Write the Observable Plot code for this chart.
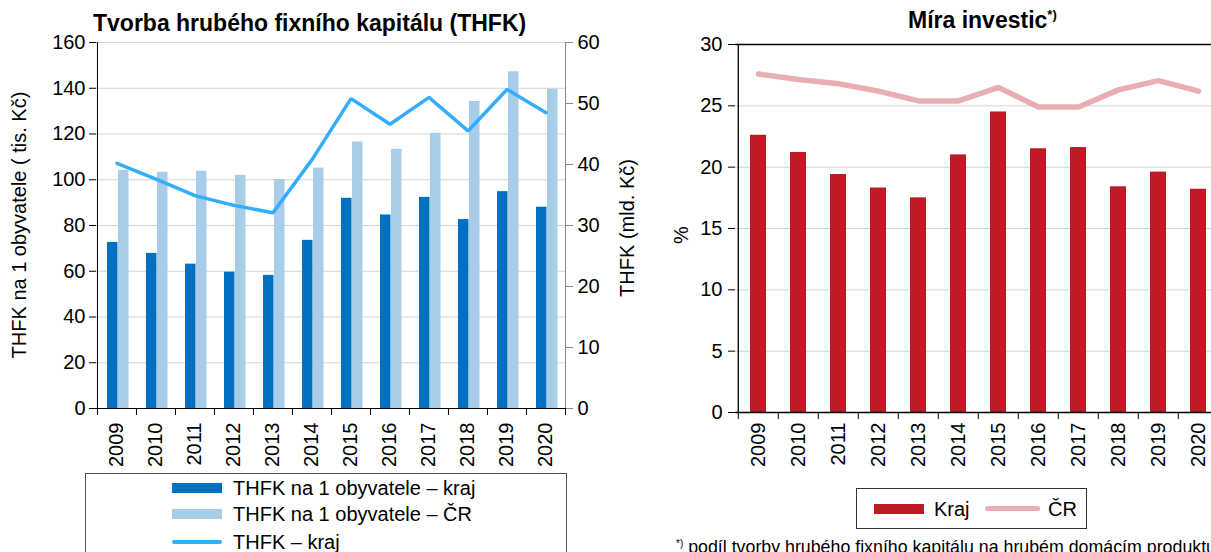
<!DOCTYPE html>
<html>
<head>
<meta charset="utf-8">
<script src="https://cdn.jsdelivr.net/npm/d3@7"></script>
<script src="https://cdn.jsdelivr.net/npm/@observablehq/plot@0.6"></script>
<style>
  html, body { margin: 0; padding: 0; background: #fff; overflow: hidden; }
  body { font-family: "Liberation Sans", Arial, sans-serif; color: #000; }
  #root { position: relative; width: 1211px; height: 552px; overflow: hidden; }
  .abs { position: absolute; white-space: nowrap; }
  .title { font-weight: bold; font-size: 23px; line-height: 23px; }
  .lbl { font-size: 20px; line-height: 20px; }
  .rot { transform: translate(-50%, -50%) rotate(-90deg); }
  svg { overflow: visible; max-width: none !important; }
</style>
</head>
<body>
<div id="root">
  <div id="left" class="abs" style="left:0;top:0;width:640px;height:470px"></div>
  <div id="right" class="abs" style="left:640px;top:0;width:600px;height:470px"></div>

  <div class="abs title" style="left:93px;top:12px">Tvorba hrubého fixního kapitálu (THFK)</div>
  <div class="abs title" style="left:908px;top:9px">Míra investic<sup style="font-size:13px;vertical-align:9px;line-height:0">*)</sup></div>

  <div class="abs lbl rot" style="left:19px;top:225px">THFK na 1 obyvatele ( tis. Kč)</div>
  <div class="abs lbl rot" style="left:627px;top:228px">THFK (mld. Kč)</div>
  <div class="abs lbl rot" style="left:681px;top:235px">%</div>

  <div id="legL" class="abs" style="left:85px;top:473px;width:480px;height:100px;border:1px solid #555;"></div>
  <div id="legR" class="abs" style="left:856px;top:488px;width:229px;height:39px;border:1px solid #333;"></div>

  <div class="abs" style="left:676px;top:539px;font-size:17.8px;line-height:17px"><sup style="font-size:10px;vertical-align:6px;line-height:0">*)</sup> podíl tvorby hrubého fixního kapitálu na hrubém domácím produktu</div>
</div>
<script>
// ---------- data ----------
const years = ["2009","2010","2011","2012","2013","2014","2015","2016","2017","2018","2019","2020"];
// THFK na 1 obyvatele (tis. Kč)
const perCapitaKraj = [72.6, 67.8, 63.1, 59.6, 58.2, 73.5, 91.9, 84.6, 92.3, 82.6, 94.8, 88.0];
const perCapitaCR   = [104.1, 103.3, 103.7, 101.9, 100.1, 105.1, 116.5, 113.3, 120.3, 134.2, 147.2, 139.5];
// THFK – kraj (mld. Kč)
const thfkKraj = [40.2, 37.6, 34.9, 33.3, 32.1, 40.8, 50.8, 46.6, 51.0, 45.5, 52.3, 48.5];
// Míra investic (%)
const miraKraj = [22.6, 21.2, 19.4, 18.3, 17.5, 21.0, 24.5, 21.5, 21.6, 18.4, 19.6, 18.2];
const miraCR   = [27.6, 27.15, 26.8, 26.2, 25.4, 25.4, 26.5, 24.9, 24.9, 26.3, 27.05, 26.2];

const leftTicks  = [0, 20, 40, 60, 80, 100, 120, 140, 160];
const rightTicks = [0, 10, 20, 30, 40, 50, 60];
const miraTicks  = [0, 5, 10, 15, 20, 25, 30];

const legendLeft = ["THFK na 1 obyvatele – kraj", "THFK na 1 obyvatele – ČR", "THFK – kraj"];
const legendRight = ["Kraj", "ČR"];

const C = {
  kraj: "#0070C0", cr: "#A7CDE9", line: "#33ADFF",
  mira: "#BE1B24", miraCR: "#E8AEB1", grid: "#D4D4D4"
};
const FONT = "Liberation Sans, Arial, sans-serif";

// ---------- left chart ----------
const rows = years.map((y, i) => ({year: y, kraj: perCapitaKraj[i], cr: perCapitaCR[i], thfk: thfkKraj[i]}));
const Lw = 640, Lh = 470, Lml = 96, Lmr = 75, Lmt = 42, Lmb = 62;
const Lhalf = (Lw - Lml - Lmr) / years.length / 2;
const k = leftTicks[leftTicks.length - 1] / rightTicks[rightTicks.length - 1];
const yPerPx = 160 / (Lh - Lmt - Lmb);

const left = Plot.plot({
  width: Lw, height: Lh,
  marginLeft: Lml, marginRight: Lmr, marginTop: Lmt, marginBottom: Lmb,
  style: {fontFamily: FONT, fontSize: "20px", color: "#000", background: "transparent", maxWidth: "none"},
  x: {domain: years, padding: 0, axis: null},
  y: {domain: [0, 160], axis: null},
  marks: [
    Plot.gridY(leftTicks.filter(d => d > 0), {stroke: C.grid, strokeOpacity: 1}),
    Plot.barY(rows, {x: "year", y: "kraj", fill: C.kraj, insetLeft: 10, insetRight: 18.5}),
    Plot.barY(rows, {x: "year", y: "cr", fill: C.cr, insetLeft: 21, insetRight: 7.5}),
    Plot.lineY(rows, {x: "year", y: d => d.thfk * k, stroke: C.line, strokeWidth: 3.5, strokeLinejoin: "miter"}),
    Plot.ruleX([years[0]], {dx: -Lhalf, stroke: "#000"}),
    Plot.ruleX([years[years.length - 1]], {dx: Lhalf, stroke: "#888"}),
    Plot.ruleY([0], {stroke: "#000"}),
    Plot.ruleX(years, {x: d => d, dx: -Lhalf, y1: 0, y2: -7 * yPerPx, stroke: "#000"}),
    Plot.ruleX([years[years.length - 1]], {dx: Lhalf, y1: 0, y2: -7 * yPerPx, stroke: "#000"}),
    Plot.axisY(leftTicks, {anchor: "left", tickSize: 7, tickPadding: 4, stroke: "#000", fill: "#000", fontSize: 20, label: null}),
    Plot.axisY(rightTicks.map(t => t * k), {anchor: "right", tickSize: 7, tickPadding: 5, stroke: "#888", fill: "#000", fontSize: 20, label: null, tickFormat: d => String(Math.round(d / k))}),
    Plot.axisX({tickSize: 0, tickRotate: -90, tickPadding: 14, fontSize: 20, fill: "#000", label: null})
  ]
});
document.getElementById("left").appendChild(left);

// ---------- right chart ----------
const mrows = years.map((y, i) => ({year: y, kraj: miraKraj[i], cr: miraCR[i]}));
const Rw = 600, Rh = 470, Rml = 95, Rmr = 20, Rmt = 44, Rmb = 58;
const Rhalf = (Rw - Rml - Rmr) / years.length / 2;
const ryPerPx = 30 / (Rh - Rmt - Rmb);

const right = Plot.plot({
  width: Rw, height: Rh,
  marginLeft: Rml, marginRight: Rmr, marginTop: Rmt, marginBottom: Rmb,
  style: {fontFamily: FONT, fontSize: "20px", color: "#000", background: "transparent", maxWidth: "none"},
  x: {domain: years, padding: 0, axis: null},
  y: {domain: [0, 30], axis: null},
  marks: [
    Plot.gridY(miraTicks.filter(d => d > 0 && d < 30), {stroke: C.grid, strokeOpacity: 1}),
    Plot.barY(mrows, {x: "year", y: "kraj", fill: C.mira, insetLeft: 12, insetRight: 12}),
    Plot.lineY(mrows, {x: "year", y: "cr", stroke: C.miraCR, strokeWidth: 5.5, strokeLinejoin: "round"}),
    Plot.ruleY([30], {stroke: "#000", strokeWidth: 1.3}),
    Plot.ruleX([years[0]], {dx: -Rhalf, stroke: "#000", strokeWidth: 1.3}),
    Plot.ruleY([0], {stroke: "#000", strokeWidth: 1.3}),
    Plot.ruleX(years, {x: d => d, dx: -Rhalf, y1: 0, y2: -7 * ryPerPx, stroke: "#000"}),
    Plot.axisY(miraTicks, {anchor: "left", tickSize: 7, tickPadding: 6, stroke: "#000", fill: "#000", fontSize: 20, label: null}),
    Plot.axisX({tickSize: 0, tickRotate: -90, tickPadding: 10, fontSize: 20, fill: "#000", label: null})
  ]
});
document.getElementById("right").appendChild(right);

// ---------- legends ----------
const legL = document.getElementById("legL");
const swL = [
  {type: "rect", color: C.kraj},
  {type: "rect", color: C.cr},
  {type: "line", color: C.line}
];
const rowCenters = [13.7, 40.3, 68]; // relative to box top
legendLeft.forEach((t, i) => {
  const sw = document.createElement("div");
  sw.className = "abs";
  const hgt = swL[i].type === "rect" ? 10 : 4;
  sw.style.cssText = `left:86px;top:${rowCenters[i] - hgt / 2}px;width:50px;height:${hgt}px;background:${swL[i].color};border-radius:${swL[i].type === "line" ? 2 : 0}px`;
  legL.appendChild(sw);
  const tx = document.createElement("div");
  tx.className = "abs lbl";
  tx.style.cssText += `left:147px;top:${rowCenters[i] - 10}px`;
  tx.textContent = t;
  legL.appendChild(tx);
});

const legR = document.getElementById("legR");
[
  {left: 17, w: 50, h: 10, color: C.mira, r: 0, tx: 77},
  {left: 128, w: 55, h: 5, color: C.miraCR, r: 3, tx: 191}
].forEach((s, i) => {
  const sw = document.createElement("div");
  sw.className = "abs";
  sw.style.cssText = `left:${s.left}px;top:${19.5 - s.h / 2}px;width:${s.w}px;height:${s.h}px;background:${s.color};border-radius:${s.r}px`;
  legR.appendChild(sw);
  const tx = document.createElement("div");
  tx.className = "abs lbl";
  tx.style.cssText += `left:${s.tx}px;top:${19.5 - 10}px`;
  tx.textContent = legendRight[i];
  legR.appendChild(tx);
});
</script>
</body>
</html>
